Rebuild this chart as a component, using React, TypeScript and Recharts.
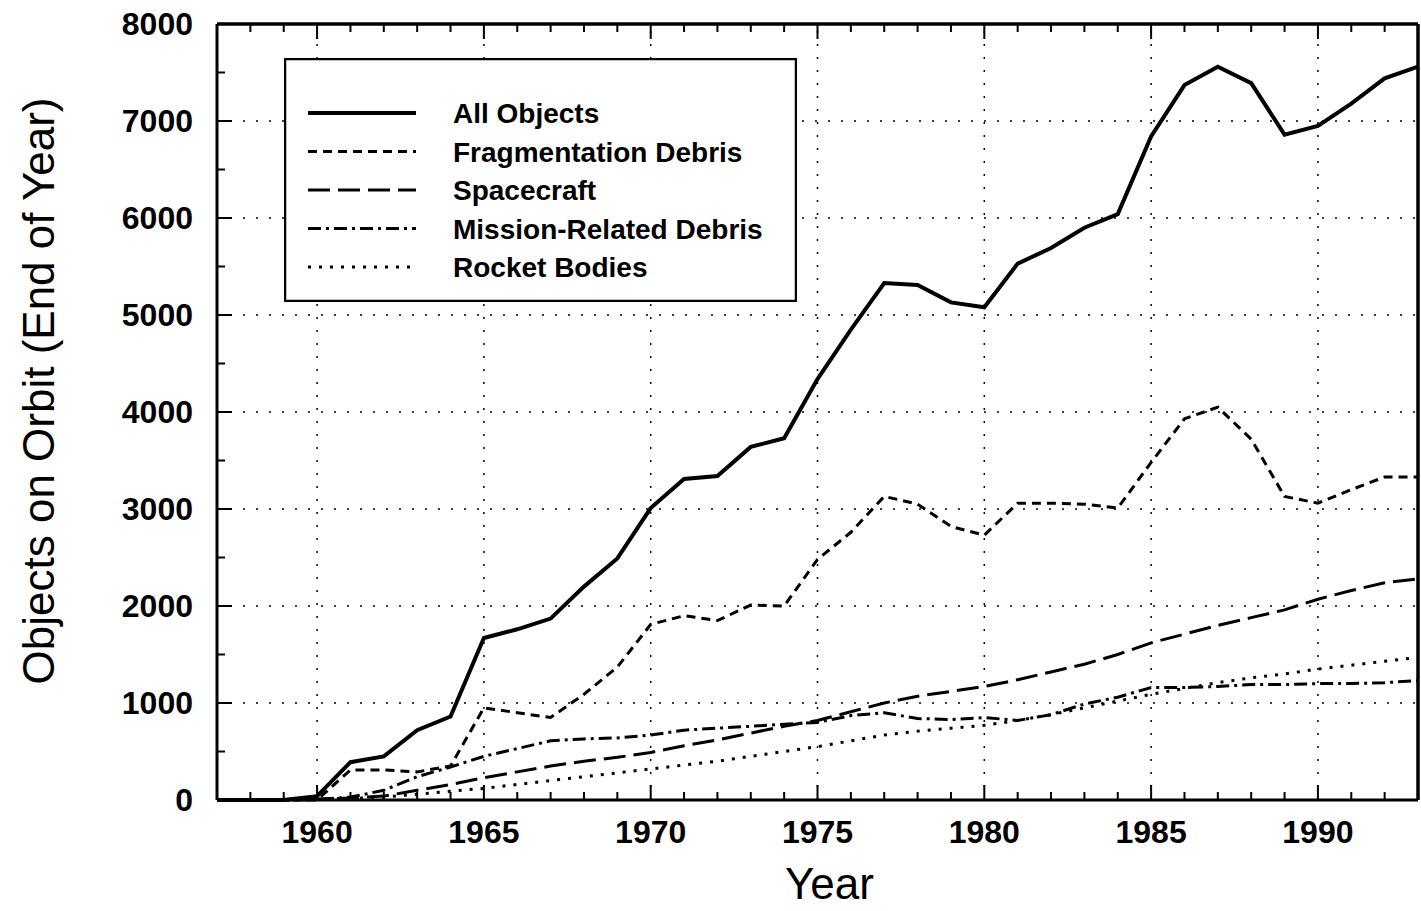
import {
  LineChart,
  Line,
  XAxis,
  YAxis,
  Legend,
  ReferenceLine,
} from "recharts";

const FONT = "'Liberation Sans', Arial, Helvetica, sans-serif";

const years = [
  1957, 1958, 1959, 1960, 1961, 1962, 1963, 1964, 1965, 1966, 1967, 1968,
  1969, 1970, 1971, 1972, 1973, 1974, 1975, 1976, 1977, 1978, 1979, 1980,
  1981, 1982, 1983, 1984, 1985, 1986, 1987, 1988, 1989, 1990, 1991, 1992,
  1993,
];

const allObjects = [
  0, 0, 0, 40, 390, 450, 720, 860, 1670, 1760, 1870, 2200, 2490, 3010, 3310,
  3340, 3640, 3730, 4340, 4850, 5330, 5310, 5130, 5080, 5530, 5690, 5900,
  6040, 6840, 7370, 7560, 7390, 6860, 6950, 7180, 7440, 7560,
];

const fragmentation = [
  0, 0, 0, 0, 310, 310, 290, 350, 950, 900, 850, 1090, 1370, 1810, 1900, 1850,
  2010, 2000, 2480, 2760, 3130, 3050, 2820, 2730, 3060, 3060, 3050, 3010,
  3480, 3930, 4050, 3720, 3130, 3060, 3200, 3330, 3330,
];

const spacecraft = [
  0, 0, 5, 10, 20, 40, 100, 160, 230, 290, 350, 400, 440, 490, 560, 620, 690,
  760, 820, 910, 1000, 1070, 1120, 1170, 1240, 1320, 1400, 1500, 1620, 1710,
  1800, 1880, 1960, 2070, 2160, 2240, 2280,
];

const missionRelated = [
  0, 0, 0, 5, 30, 100, 240, 340, 450, 530, 610, 630, 640, 670, 720, 740, 760,
  780, 800, 870, 900, 840, 830, 850, 820, 880, 990, 1060, 1160, 1160, 1170,
  1190, 1190, 1200, 1200, 1210, 1230,
];

const rocketBodies = [
  0, 0, 0, 5, 15, 30, 60, 90, 120, 160, 200, 240, 280, 320, 360, 400, 450,
  500, 550, 610, 670, 710, 740, 770, 820, 880, 950, 1020, 1090, 1150, 1210,
  1260, 1300, 1350, 1390, 1430, 1470,
];

const yTicks = [
  0, 500, 1000, 1500, 2000, 2500, 3000, 3500, 4000, 4500, 5000, 5500, 6000,
  6500, 7000, 7500, 8000,
];
const xGrid = [1960, 1965, 1970, 1975, 1980, 1985, 1990];
const yGrid = [1000, 2000, 3000, 4000, 5000, 6000, 7000];

const series = [
  { key: "all", name: "All Objects", width: 4, dash: undefined },
  { key: "frag", name: "Fragmentation Debris", width: 3, dash: "9 6" },
  { key: "sc", name: "Spacecraft", width: 3, dash: "22 8" },
  { key: "mrd", name: "Mission-Related Debris", width: 3, dash: "13 5 3 5" },
  { key: "rb", name: "Rocket Bodies", width: 3, dash: "3 8" },
];

const data = years.map((year, i) => ({
  year,
  all: allObjects[i],
  frag: fragmentation[i],
  sc: spacecraft[i],
  mrd: missionRelated[i],
  rb: rocketBodies[i],
}));

const tickText = {
  fontFamily: FONT,
  fontWeight: 700,
  fontSize: 32,
  fill: "#000",
};

const BottomTick = (props: any) => {
  const { x, y, payload } = props;
  const v = payload.value;
  const major = v % 5 === 0;
  return (
    <g>
      <line x1={x} y1={y} x2={x} y2={y - (major ? 15 : 8)} stroke="#000" strokeWidth={2} />
      {major && v >= 1960 && v <= 1990 && (
        <text x={x} y={y + 43} textAnchor="middle" {...tickText}>
          {v}
        </text>
      )}
    </g>
  );
};

const TopTick = (props: any) => {
  const { x, y, payload } = props;
  const major = payload.value % 5 === 0;
  return <line x1={x} y1={y} x2={x} y2={y + (major ? 15 : 8)} stroke="#000" strokeWidth={2} />;
};

const LeftTick = (props: any) => {
  const { x, y, payload } = props;
  const v = payload.value;
  const major = v % 1000 === 0;
  return (
    <g>
      <line x1={x} y1={y} x2={x + (major ? 15 : 8)} y2={y} stroke="#000" strokeWidth={2} />
      {major && (
        <text x={x - 24} y={y + 11} textAnchor="end" {...tickText}>
          {v}
        </text>
      )}
    </g>
  );
};

const RightTick = (props: any) => {
  const { x, y, payload } = props;
  const major = payload.value % 1000 === 0;
  return <line x1={x} y1={y} x2={x - (major ? 15 : 8)} y2={y} stroke="#000" strokeWidth={2} />;
};

const renderLegend = () => (
  <svg width={513} height={244}>
    <rect x={1} y={1} width={511} height={242} fill="#fff" stroke="#000" strokeWidth={2.5} />
    {series.map((s, i) => {
      const cy = 55 + i * 38.5;
      return (
        <g key={s.key}>
          <line
            x1={24}
            y1={cy}
            x2={132}
            y2={cy}
            stroke="#000"
            strokeWidth={s.width}
            strokeDasharray={s.dash}
          />
          <text
            x={169}
            y={cy + 10}
            fontFamily={FONT}
            fontWeight={700}
            fontSize={28}
            fill="#000"
          >
            {s.name}
          </text>
        </g>
      );
    })}
  </svg>
);

export default function App() {
  return (
    <div
      style={{
        position: "absolute",
        left: 0,
        top: 0,
        width: 1421,
        height: 911,
        background: "#fff",
      }}
    >
      <LineChart
        width={1421}
        height={911}
        data={data}
        margin={{ top: 23, right: 2, bottom: 0, left: 0 }}
      >
        <XAxis
          dataKey="year"
          type="number"
          domain={[1957, 1993]}
          ticks={years}
          interval={0}
          height={111}
          tickSize={0}
          tickMargin={0}
          tickLine={false}
          tick={BottomTick}
          axisLine={{ stroke: "#000", strokeWidth: 3 }}
          label={{
            value: "Year",
            position: "insideBottom",
            offset: 12,
            dx: 12,
            style: { fontFamily: FONT, fontSize: 44, fill: "#000" },
          }}
        />
        <XAxis
          xAxisId="top"
          orientation="top"
          dataKey="year"
          type="number"
          domain={[1957, 1993]}
          ticks={years}
          interval={0}
          height={1}
          tickSize={0}
          tickMargin={0}
          tickLine={false}
          tick={TopTick}
          axisLine={{ stroke: "#000", strokeWidth: 3 }}
        />
        <YAxis
          type="number"
          domain={[0, 8000]}
          ticks={yTicks}
          interval={0}
          width={217}
          tickSize={0}
          tickMargin={0}
          tickLine={false}
          tick={LeftTick}
          axisLine={{ stroke: "#000", strokeWidth: 3 }}
          label={{
            value: "Objects on Orbit (End of Year)",
            angle: -90,
            position: "insideLeft",
            offset: 38,
            dy: -21,
            textAnchor: "middle",
            style: { fontFamily: FONT, fontSize: 44, fill: "#000", textAnchor: "middle" },
          }}
        />
        <YAxis
          yAxisId="right"
          orientation="right"
          type="number"
          domain={[0, 8000]}
          ticks={yTicks}
          interval={0}
          width={1}
          tickSize={0}
          tickMargin={0}
          tickLine={false}
          tick={RightTick}
          axisLine={{ stroke: "#000", strokeWidth: 3 }}
        />
        {xGrid.map((v) => (
          <ReferenceLine
            key={`x${v}`}
            x={v}
            stroke="#000"
            strokeWidth={1.5}
            strokeDasharray="2 11"
          />
        ))}
        {yGrid.map((v) => (
          <ReferenceLine
            key={`y${v}`}
            y={v}
            stroke="#000"
            strokeWidth={1.5}
            strokeDasharray="2 11"
          />
        ))}
        <ReferenceLine y={8000} stroke="#000" strokeWidth={3} />
        <ReferenceLine x={1993} stroke="#000" strokeWidth={3} />
        <Legend
          layout="vertical"
          align="center"
          verticalAlign="middle"
          content={renderLegend}
          wrapperStyle={{ left: 284, top: 58, width: 513, height: 244 }}
        />
        {series.map((s) => (
          <Line
            key={s.key}
            type="linear"
            dataKey={s.key}
            name={s.name}
            stroke="#000"
            strokeWidth={s.width}
            strokeDasharray={s.dash}
            dot={false}
            activeDot={false}
            isAnimationActive={false}
          />
        ))}
      </LineChart>
    </div>
  );
}
